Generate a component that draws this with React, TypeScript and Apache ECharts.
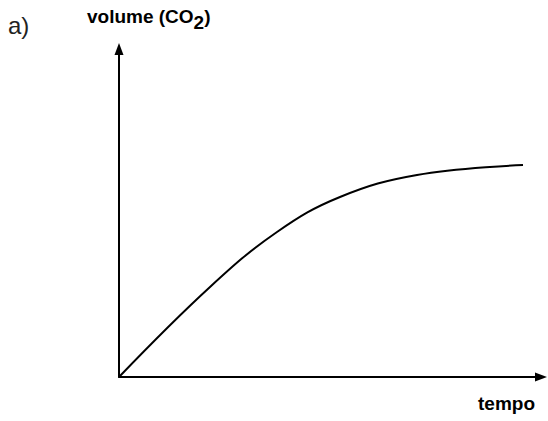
import React, { useEffect, useRef } from "react";
import * as echarts from "echarts";

// Values (arbitrary units: time vs. CO2 volume)
const timeValues = [0, 22.75, 39.5, 55.25, 74.5, 101];
const volumeValues = [0, 22.5, 36.25, 45, 50.5, 53];
const xMax = 105.5;
const yMax = 82;

const panelLabel = "a)";
const yTitleMain = "volume (CO";
const yTitleSub = "2";
const yTitleEnd = ")";
const xTitle = "tempo";

const FONT = "'Liberation Sans', Arial, sans-serif";

export default function App() {
  const ref = useRef<HTMLDivElement>(null);
  useEffect(() => {
    if (!ref.current) return;
    const chart = echarts.init(ref.current, null, { renderer: "svg" });
    const axisLine = {
      show: true,
      symbol: ["none", "triangle"],
      symbolSize: [9, 12],
      lineStyle: { color: "#000", width: 2 },
    };
    chart.setOption({
      animation: false,
      backgroundColor: "#fff",
      grid: { left: 119, top: 49, width: 422, height: 328, containLabel: false },
      xAxis: {
        type: "value",
        min: 0,
        max: xMax,
        axisLine,
        axisTick: { show: false },
        axisLabel: { show: false },
        splitLine: { show: false },
      },
      yAxis: {
        type: "value",
        min: 0,
        max: yMax,
        axisLine,
        axisTick: { show: false },
        axisLabel: { show: false },
        splitLine: { show: false },
      },
      series: [
        {
          type: "line",
          data: timeValues.map((t, i) => [t, volumeValues[i]]),
          smooth: 0.4,
          showSymbol: false,
          lineStyle: { color: "#000", width: 2 },
        },
      ],
      graphic: [
        {
          type: "text",
          left: 8,
          top: 13,
          style: { text: panelLabel, fontSize: 24, fontFamily: FONT, fill: "#222" },
        },
        {
          type: "text",
          left: 87,
          top: 7,
          style: {
            text: `{m|${yTitleMain}}{s|${yTitleSub}}{m|${yTitleEnd}}`,
            rich: {
              m: { fontSize: 19, fontWeight: "bold", fontFamily: FONT, fill: "#000", verticalAlign: "top" },
              s: { fontSize: 19, fontWeight: "bold", fontFamily: FONT, fill: "#000", padding: [6, 0, 0, 0] },
            },
          },
        },
        {
          type: "text",
          left: 478,
          top: 394,
          style: { text: xTitle, fontSize: 19, fontWeight: "bold", fontFamily: FONT, fill: "#000" },
        },
      ],
    });
    return () => chart.dispose();
  }, []);
  return (
    <div
      ref={ref}
      style={{ position: "fixed", left: 0, top: 0, width: 548, height: 421, background: "#fff" }}
    />
  );
}
